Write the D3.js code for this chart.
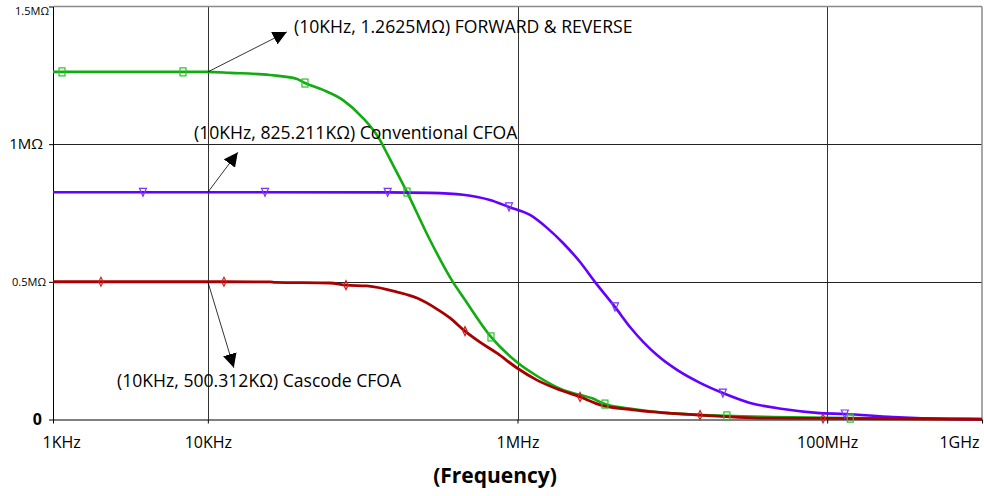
<!DOCTYPE html>
<html>
<head>
<meta charset="utf-8">
<script src="https://cdn.jsdelivr.net/npm/d3@7/dist/d3.min.js"></script>
<style>
  body { margin: 0; background: #fff; }
  svg { display: block; }
  text { font-family: "Open Sans", "Noto Sans", sans-serif; fill: #000; }
</style>
</head>
<body>
<svg id="chart" width="984" height="496"></svg>
<script>
// Axis ticks
const xTickValues = [1e3, 1e4, 1e6, 1e8, 1e9];
const xTickLabels = ["1KHz", "10KHz", "1MHz", "100MHz", "1GHz"];
const yTickValues = [0, 0.5e6, 1e6, 1.5e6];
const yTickLabels = ["0", "0.5MΩ", "1MΩ", "1.5MΩ"];

// FORWARD & REVERSE (Hz, Ω)
const fwdFreq = [1e3, 1.143e3, 6.91e3, 1e4, 1.39e4, 2.52e4, 3.77e4, 4.24e4, 5.54e4, 7.46e4,
  1.005e5, 1.294e5, 1.458e5, 1.933e5, 2.72e5, 3.83e5, 4.45e5, 6.74e5, 1.007e6, 1.336e6,
  1.968e6, 3.07e6, 3.67e6, 5.57e6, 9.24e6, 2.25e7, 4.47e7, 1.41e8, 1e9];
const fwdR = [1262500, 1262500, 1262500, 1262500, 1259000, 1251000, 1237000, 1222000, 1197000, 1160000,
  1095000, 1015000, 959000, 826000, 652000, 499000, 445000, 300000, 205000, 158000,
  107000, 76000, 56000, 38000, 24000, 13000, 9000, 5000, 2000];
const fwdMarks = [1.143e3, 6.91e3, 4.24e4, 1.933e5, 6.74e5, 3.67e6, 2.25e7, 1.41e8];

// Conventional CFOA (Hz, Ω)
const convFreq = [1e3, 3.81e3, 1e4, 2.34e4, 1.45e5, 2.72e5, 4.45e5, 6.64e5, 8.81e5, 1.205e6,
  1.552e6, 1.968e6, 2.535e6, 3.17e6, 4.26e6, 5.33e6, 7.96e6, 1.072e7, 1.51e7, 2.12e7,
  3.18e7, 5.19e7, 8.59e7, 1.30e8, 2.66e8, 6.21e8, 1e9];
const convR = [825211, 825211, 825211, 825211, 825000, 823000, 816000, 797000, 772000, 743000,
  696000, 641000, 572000, 499000, 409000, 336000, 234000, 180000, 133000, 96000,
  60000, 38000, 24000, 20000, 9000, 2000, 1000];
const convMarks = [3.81e3, 2.34e4, 1.45e5, 8.81e5, 4.26e6, 2.12e7, 1.30e8];

// Cascode CFOA (Hz, Ω)
const casFreq = [1e3, 2.04e3, 1e4, 1.271e4, 2.52e4, 2.72e4, 6.15e4, 7.80e4, 1.067e5, 1.667e5,
  2.244e5, 3.02e5, 3.66e5, 4.58e5, 5.72e5, 7.37e5, 9.93e5, 1.336e6, 1.882e6, 2.535e6,
  3.41e6, 5.57e6, 1.51e7, 4.09e7, 9.40e7, 1e9];
const casR = [500312, 500312, 500312, 500312, 500000, 498000, 495800, 488000, 485000, 463000,
  441000, 401000, 369000, 321000, 281000, 241000, 187000, 143000, 107000, 82000,
  53000, 35000, 16000, 5000, 4000, 1000];
const casMarks = [2.04e3, 1.271e4, 7.80e4, 4.58e5, 2.535e6, 1.51e7, 9.40e7];

// Point annotations at 10KHz
const noteFreq = [1e4, 1e4, 1e4];
const noteValue = [1262500, 825211, 500312];
const noteText = ["(10KHz, 1.2625MΩ) FORWARD & REVERSE",
                  "(10KHz, 825.211KΩ) Conventional CFOA",
                  "(10KHz, 500.312KΩ) Cascode CFOA"];

const svg = d3.select("#chart");
const plot = { left: 53, right: 982, top: 6.5, bottom: 419.5 };

const x = d3.scaleLog().domain([1e3, 1e9]).range([plot.left, plot.right]);
const y = d3.scaleLinear().domain([0, 1.5e6]).range([plot.bottom, plot.top]);

// Grid
const grid = svg.append("g");
grid.selectAll("line.vg").data([1e4, 1e6, 1e8]).join("line")
  .attr("x1", d => Math.round(x(d)) + 0.5).attr("x2", d => Math.round(x(d)) + 0.5)
  .attr("y1", plot.top).attr("y2", plot.bottom)
  .attr("stroke", "#333").attr("stroke-width", 1);
grid.selectAll("line.hg").data([0.5e6, 1e6]).join("line")
  .attr("x1", plot.left).attr("x2", plot.right)
  .attr("y1", d => Math.round(y(d)) + 0.5).attr("y2", d => Math.round(y(d)) + 0.5)
  .attr("stroke", "#222").attr("stroke-width", 1);
// Frame top and right
grid.append("line").attr("x1", plot.left).attr("x2", plot.right)
  .attr("y1", y(1.5e6)).attr("y2", y(1.5e6)).attr("stroke", "#8a8a8a").attr("stroke-width", 1.5);
grid.append("line").attr("x1", plot.right).attr("x2", plot.right)
  .attr("y1", plot.top).attr("y2", plot.bottom).attr("stroke", "#8a8a8a").attr("stroke-width", 1.5);

// Axes
const yAxis = svg.append("g").attr("transform", `translate(${plot.left},0)`)
  .call(d3.axisLeft(y).tickValues(yTickValues).tickFormat((d, i) => yTickLabels[i])
    .tickSize(4).tickSizeOuter(0).tickPadding(5));
yAxis.select(".domain").attr("stroke", "#000");
yAxis.selectAll(".tick line").attr("stroke", "#000");
yAxis.selectAll(".tick text")
  .style("font-size", (d, i) => (i === 0 ? "16px" : i === 2 ? "15px" : "11px"))
  .style("font-weight", (d, i) => (i === 0 ? "bold" : "normal"))
  .attr("dx", (d, i) => [-2, 2, -1, 5][i])
  .attr("dy", (d, i) => (i === 3 ? "0.75em" : "0.32em"));

const xAxis = svg.append("g").attr("transform", `translate(0,${plot.bottom})`)
  .call(d3.axisBottom(x).tickValues(xTickValues).tickFormat((d, i) => xTickLabels[i])
    .tickSize(4).tickSizeOuter(0).tickPadding(13));
xAxis.select(".domain").attr("stroke", "#000");
xAxis.selectAll(".tick line").attr("stroke", "#000");
xAxis.selectAll(".tick text").style("font-size", "16px")
  .attr("text-anchor", (d, i) => (i === 0 ? "start" : i === xTickValues.length - 1 ? "end" : "middle"))
  .attr("dx", (d, i) => (i === 0 ? -11 : i === xTickValues.length - 1 ? -3 : 0));

svg.append("text").attr("x", 495).attr("y", 483).attr("text-anchor", "middle")
  .style("font-size", "21px").style("font-weight", "bold").text("(Frequency)");

// Series
const series = [
  { f: fwdFreq, r: fwdR, marks: fwdMarks, color: "#10ac10", markColor: "#2cc02c", width: 2.6, shape: "square" },
  { f: convFreq, r: convR, marks: convMarks, color: "#6400ff", markColor: "#7a33ff", width: 2.6, shape: "triangle" },
  { f: casFreq, r: casR, marks: casMarks, color: "#a80000", markColor: "#d02020", width: 2.8, shape: "diamond" }
];

const line = d3.line().x(d => x(d[0])).y(d => y(d[1])).curve(d3.curveMonotoneX);

series.forEach(s => {
  const pts = s.f.map((f, i) => [f, s.r[i]]);
  svg.append("path").datum(pts).attr("d", line)
    .attr("fill", "none").attr("stroke", s.color).attr("stroke-width", s.width)
    .attr("stroke-linejoin", "round");
});

series.forEach(s => {
  const pts = s.marks.map(m => [m, s.r[s.f.indexOf(m)]]);
  const g = svg.append("g");
  pts.forEach(p => {
    const cx = x(p[0]), cy = y(p[1]);
    if (s.shape === "square") {
      g.append("rect").attr("x", cx - 3).attr("y", cy - 4).attr("width", 6).attr("height", 8)
        .attr("fill", "none").attr("stroke", s.markColor).attr("stroke-width", 1.2);
    } else if (s.shape === "triangle") {
      g.append("path").attr("d", `M${cx - 3.5},${cy - 4}L${cx + 3.5},${cy - 4}L${cx},${cy + 4}Z`)
        .attr("fill", "none").attr("stroke", s.markColor).attr("stroke-width", 1.2);
    } else {
      g.append("path").attr("d", `M${cx},${cy - 4.5}L${cx + 2.2},${cy}L${cx},${cy + 4.5}L${cx - 2.2},${cy}Z`)
        .attr("fill", "none").attr("stroke", s.markColor).attr("stroke-width", 1.2);
    }
  });
});

// Annotation arrows and labels
svg.append("defs").append("marker").attr("id", "head")
  .attr("viewBox", "0 -7 14 14").attr("refX", 14).attr("refY", 0)
  .attr("markerUnits", "userSpaceOnUse").attr("markerWidth", 14).attr("markerHeight", 14)
  .attr("orient", "auto")
  .append("path").attr("d", "M0,-7L14,0L0,7Z").attr("fill", "#000");

const noteLayout = [
  { tipDx: 79, tipDy: -40, labelX: 294, labelY: 33 },
  { tipDx: 30, tipDy: -40, labelX: 194, labelY: 139 },
  { tipDx: 26, tipDy: 86, labelX: 117, labelY: 387 }
];

noteText.forEach((t, i) => {
  const bx = x(noteFreq[i]), by = y(noteValue[i]);
  const L = noteLayout[i];
  svg.append("line").attr("x1", bx).attr("y1", by)
    .attr("x2", bx + L.tipDx).attr("y2", by + L.tipDy)
    .attr("stroke", "#000").attr("stroke-width", 0.8).attr("marker-end", "url(#head)");
  svg.append("text").attr("x", L.labelX).attr("y", L.labelY)
    .style("font-size", "17.6px").text(t);
});
</script>
</body>
</html>
